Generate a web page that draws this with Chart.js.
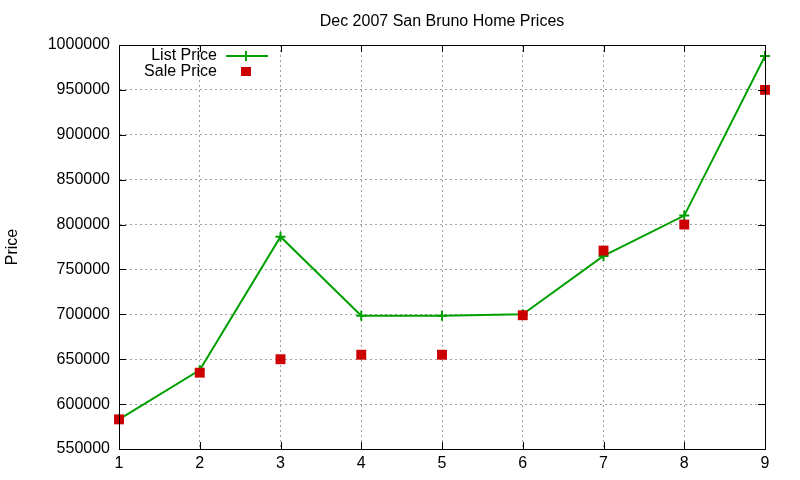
<!DOCTYPE html>
<html>
<head>
<meta charset="utf-8">
<script src="https://cdn.jsdelivr.net/npm/chart.js@4"></script>
<style>
  html, body { margin: 0; padding: 0; background: #fff; }
  #wrap { width: 800px; height: 480px; }
</style>
</head>
<body>
<div id="wrap"><canvas id="chart" width="800" height="480"></canvas></div>
<script>
const chartTitle = "Dec 2007 San Bruno Home Prices";
const yLabel = "Price";
const homes = [1, 2, 3, 4, 5, 6, 7, 8, 9];
const listPrice = [583000, 638000, 786500, 698500, 698500, 700000, 765000, 810000, 987700];
const salePrice = [583000, 635000, 650000, 655000, 655000, 699000, 771000, 800000, 950000];
const seriesNames = ["List Price", "Sale Price"];

const FONT = "'Liberation Sans', Arial, sans-serif";

// gnuplot style: title, y label, legend inside plot, inner tick marks
const gnuplotDecor = {
  id: "gnuplotDecor",
  afterDraw(chart) {
    const { ctx, chartArea: a, scales } = chart;
    ctx.save();
    ctx.fillStyle = "#000";
    ctx.font = "16px " + FONT;
    ctx.textAlign = "center";
    ctx.textBaseline = "middle";
    ctx.fillText(chartTitle, (a.left + a.right) / 2, 22);

    ctx.save();
    ctx.translate(13, (a.top + a.bottom) / 2);
    ctx.rotate(-Math.PI / 2);
    ctx.fillText(yLabel, 0, 0);
    ctx.restore();

    // inner ticks
    ctx.strokeStyle = "#000";
    ctx.lineWidth = 1;
    ctx.beginPath();
    scales.y.ticks.forEach(t => {
      const y = Math.round(scales.y.getPixelForValue(t.value)) + 0.5;
      ctx.moveTo(a.left, y); ctx.lineTo(a.left + 7, y);
      ctx.moveTo(a.right, y); ctx.lineTo(a.right - 7, y);
    });
    scales.x.ticks.forEach(t => {
      const x = Math.round(scales.x.getPixelForValue(t.value)) + 0.5;
      ctx.moveTo(x, a.bottom); ctx.lineTo(x, a.bottom - 7);
      ctx.moveTo(x, a.top); ctx.lineTo(x, a.top + 7);
    });
    ctx.stroke();

    // legend
    ctx.textAlign = "right";
    ctx.fillText(seriesNames[0], 217, 56);
    ctx.fillText(seriesNames[1], 217, 72);
    ctx.strokeStyle = "#00a000";
    ctx.lineWidth = 2;
    ctx.beginPath();
    ctx.moveTo(226, 56); ctx.lineTo(268, 56);
    ctx.moveTo(246, 51); ctx.lineTo(246, 61);
    ctx.stroke();
    ctx.fillStyle = "#cc0000";
    ctx.fillRect(241, 67, 10, 9);
    ctx.restore();
  }
};

new Chart(document.getElementById("chart"), {
  type: "line",
  data: {
    datasets: [
      {
        label: seriesNames[0],
        data: homes.map((h, i) => ({ x: h, y: listPrice[i] })),
        borderColor: "#00a000",
        backgroundColor: "#00a000",
        borderWidth: 2,
        pointStyle: "cross",
        pointRadius: 5,
        pointBorderWidth: 2,
        tension: 0,
        order: 2
      },
      {
        label: seriesNames[1],
        data: homes.map((h, i) => ({ x: h, y: salePrice[i] })),
        showLine: false,
        borderColor: "#cc0000",
        backgroundColor: "#cc0000",
        pointStyle: "rect",
        pointRadius: 7,
        pointBorderWidth: 0,
        order: 1
      }
    ]
  },
  options: {
    responsive: false,
    animation: false,
    clip: false,
    layout: { padding: { top: 45, right: 35, left: 0, bottom: 0 } },
    plugins: {
      legend: { display: false },
      title: { display: false },
      tooltip: { enabled: false }
    },
    scales: {
      x: {
        type: "linear",
        min: 1,
        max: 9,
        ticks: { stepSize: 1, color: "#000", font: { size: 16, family: FONT }, padding: 5 },
        grid: { color: "#a0a0a0", lineWidth: 1, drawTicks: false },
        border: { display: true, color: "#000", width: 1, dash: [2, 3] },
        afterFit(scale) { scale.height = 31; }
      },
      y: {
        min: 550000,
        max: 1000000,
        ticks: {
          stepSize: 50000,
          color: "#000",
          font: { size: 16, family: FONT },
          padding: 9,
          callback: v => String(v)
        },
        grid: { color: "#a0a0a0", lineWidth: 1, drawTicks: false },
        border: { display: true, color: "#000", width: 1, dash: [2, 3] },
        afterFit(scale) { scale.width = 119; }
      }
    }
  },
  plugins: [
    gnuplotDecor,
    {
      id: "frame",
      afterDatasetsDraw(chart) {
        const { ctx, chartArea: a } = chart;
        ctx.save();
        ctx.strokeStyle = "#000";
        ctx.lineWidth = 1;
        ctx.setLineDash([]);
        ctx.strokeRect(a.left + 0.5, a.top + 0.5, a.right - a.left, a.bottom - a.top);
        ctx.restore();
      }
    }
  ]
});
</script>
</body>
</html>
